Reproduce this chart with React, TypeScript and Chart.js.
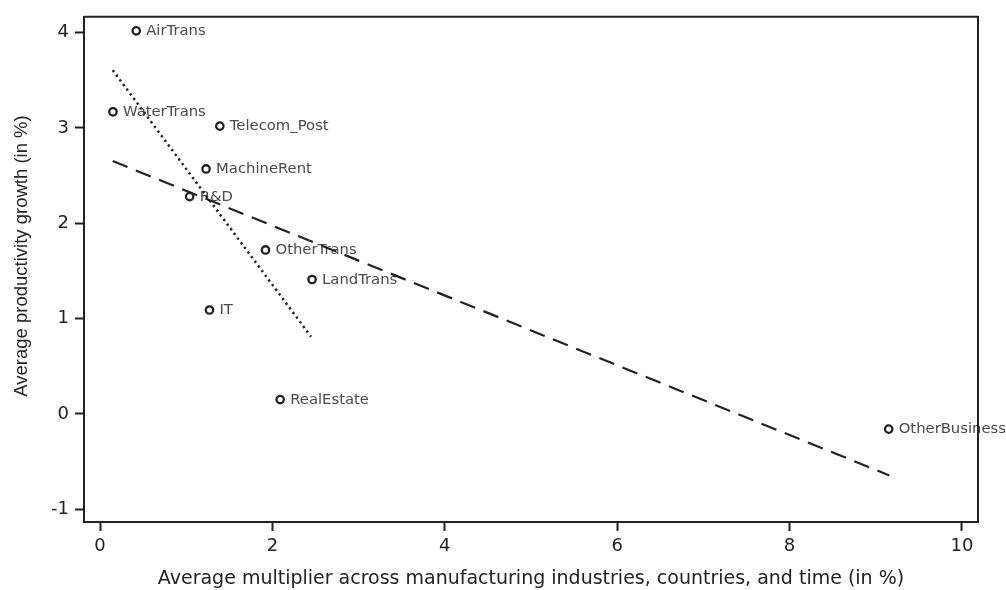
import { useEffect, useRef } from 'react';
import { Chart, registerables } from 'chart.js';

Chart.register(...registerables);

// Industries and their (multiplier, productivity growth) pairs
const industries = ['AirTrans', 'WaterTrans', 'Telecom_Post', 'MachineRent', 'R&D', 'OtherTrans', 'LandTrans', 'IT', 'RealEstate', 'OtherBusiness'];
const multiplier = [0.42, 0.15, 1.39, 1.23, 1.04, 1.92, 2.46, 1.27, 2.09, 9.15];
const productivityGrowth = [4.02, 3.17, 3.02, 2.57, 2.28, 1.72, 1.41, 1.09, 0.15, -0.16];

// Fitted lines: dotted (excluding OtherBusiness) and dashed (all industries)
const fitDottedX = [0.147, 2.448];
const fitDottedY = [3.607, 0.81];
const fitDashedX = [0.147, 9.157];
const fitDashedY = [2.653, -0.646];

const xTicks = [0, 2, 4, 6, 8, 10];
const yTicks = [-1, 0, 1, 2, 3, 4];

const xTitle = 'Average multiplier across manufacturing industries, countries, and time (in %)';
const yTitle = 'Average productivity growth (in %)';

const INK = '#222222';

export default function App() {
  const canvasRef = useRef<HTMLCanvasElement>(null);

  useEffect(() => {
    const canvas = canvasRef.current;
    if (!canvas) return;

    // Industry names next to each marker, drawn before the fit lines
    const pointLabels = {
      id: 'pointLabels',
      afterDatasetDraw(chart: any, args: any) {
        if (args.index !== 0) return;
        const ctx = chart.ctx;
        ctx.save();
        ctx.font = '14.8px "DejaVu Sans"';
        ctx.fillStyle = '#4a4a4a';
        ctx.textBaseline = 'middle';
        ctx.textAlign = 'left';
        args.meta.data.forEach((pt: any, i: number) => {
          ctx.fillText(industries[i], pt.x + 10, pt.y + 0.5);
        });
        ctx.restore();
      },
    };

    // Top and right sides of the plot box, plus the vertical axis title
    const frame = {
      id: 'frame',
      afterDraw(chart: any) {
        const { left, top, right, bottom } = chart.chartArea;
        const ctx = chart.ctx;
        ctx.save();
        ctx.strokeStyle = INK;
        ctx.lineWidth = 2;
        ctx.beginPath();
        ctx.moveTo(left, top);
        ctx.lineTo(right, top);
        ctx.lineTo(right, bottom);
        ctx.stroke();

        ctx.translate(22, 256);
        ctx.rotate(-Math.PI / 2);
        ctx.font = '18.5px "Liberation Sans"';
        ctx.fillStyle = INK;
        ctx.textAlign = 'center';
        ctx.textBaseline = 'middle';
        ctx.fillText(yTitle, 0, 0);
        ctx.restore();
      },
    };

    const chart = new Chart(canvas, {
      type: 'scatter',
      data: {
        datasets: [
          {
            data: multiplier.map((x, i) => ({ x, y: productivityGrowth[i] })),
            pointRadius: 3.7,
            pointBorderWidth: 2.3,
            pointBorderColor: INK,
            pointBackgroundColor: 'rgba(0,0,0,0)',
            order: 2,
          },
          {
            type: 'line',
            data: fitDottedX.map((x, i) => ({ x, y: fitDottedY[i] })),
            borderColor: INK,
            borderWidth: 2.5,
            borderDash: [2.3, 3.5],
            pointRadius: 0,
            fill: false,
            order: 1,
          },
          {
            type: 'line',
            data: fitDashedX.map((x, i) => ({ x, y: fitDashedY[i] })),
            borderColor: INK,
            borderWidth: 2.2,
            borderDash: [16, 9],
            pointRadius: 0,
            fill: false,
            order: 1,
          },
        ],
      } as any,
      options: {
        animation: false,
        responsive: false,
        events: [],
        layout: {
          autoPadding: false,
          padding: { top: 13, right: 28, left: 0, bottom: 0 },
        },
        plugins: {
          legend: { display: false },
          tooltip: { enabled: false },
        },
        scales: {
          x: {
            type: 'linear',
            min: -0.186,
            max: 10.186,
            afterBuildTicks: (s: any) => {
              s.ticks = xTicks.map((v) => ({ value: v }));
            },
            afterFit: (s: any) => {
              s.height = 68;
            },
            grid: {
              drawOnChartArea: false,
              drawTicks: true,
              tickLength: 9,
              tickColor: INK,
              tickWidth: 2,
            },
            border: { display: true, color: INK, width: 2 },
            ticks: {
              font: { family: '"DejaVu Sans"', size: 18 },
              color: INK,
              padding: 5,
              maxRotation: 0,
            },
            title: {
              display: true,
              text: xTitle,
              font: { family: '"DejaVu Sans"', size: 19 },
              color: INK,
              padding: { top: 0, bottom: 0 },
            },
          },
          y: {
            type: 'linear',
            min: -1.135,
            max: 4.167,
            afterBuildTicks: (s: any) => {
              s.ticks = yTicks.map((v) => ({ value: v }));
            },
            afterFit: (s: any) => {
              s.width = 84;
            },
            grid: {
              drawOnChartArea: false,
              drawTicks: true,
              tickLength: 9,
              tickColor: INK,
              tickWidth: 2,
            },
            border: { display: true, color: INK, width: 2 },
            ticks: {
              font: { family: '"DejaVu Sans"', size: 18 },
              color: INK,
              padding: 6,
            },
            title: { display: false },
          },
        },
      } as any,
      plugins: [pointLabels, frame],
    });

    return () => chart.destroy();
  }, []);

  return (
    <div style={{ position: 'fixed', left: 0, top: 0, width: 1006, height: 590, background: '#ffffff' }}>
      <canvas ref={canvasRef} width={1006} height={590} style={{ display: 'block' }} />
    </div>
  );
}
